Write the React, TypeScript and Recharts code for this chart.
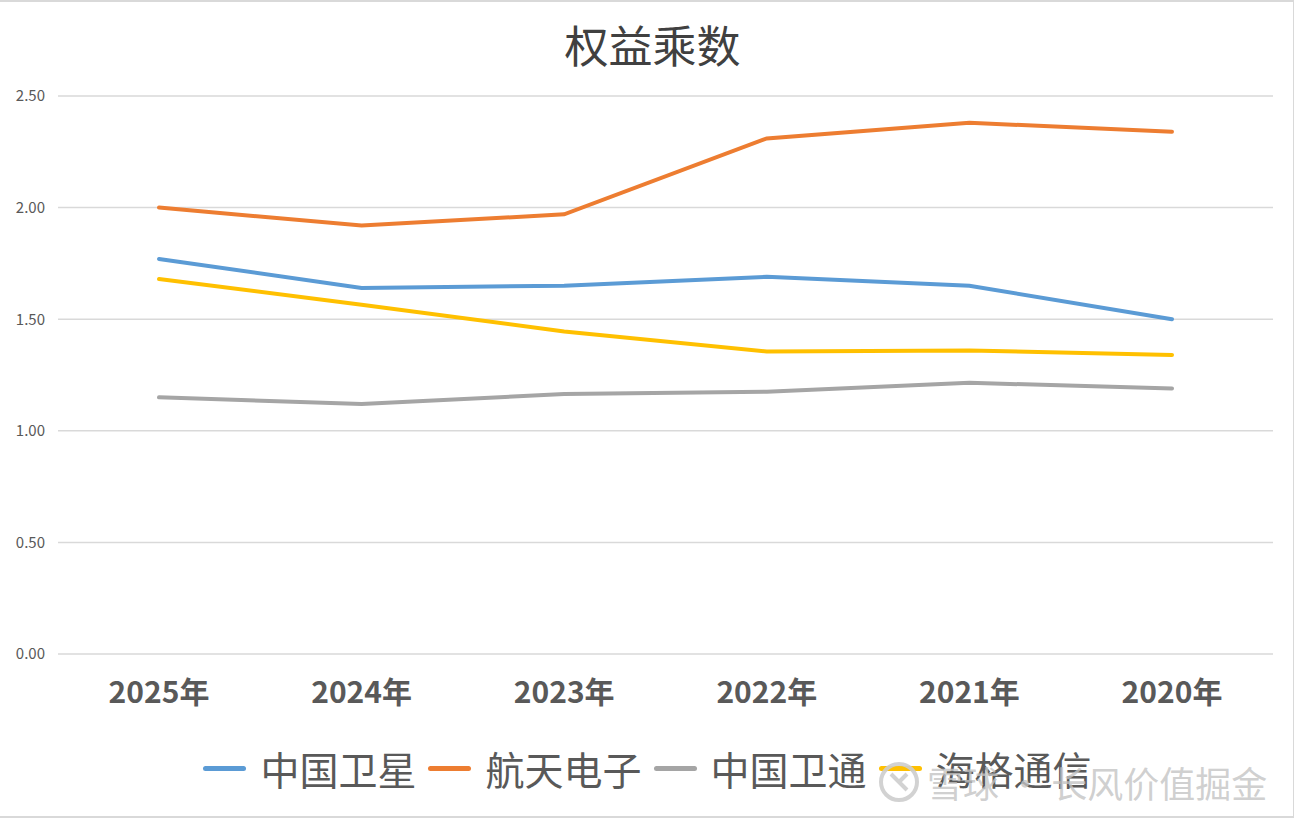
import React from 'react';
import { LineChart, Line, XAxis, YAxis, CartesianGrid } from 'recharts';

const years = ['2025年', '2024年', '2023年', '2022年', '2021年', '2020年'];
const chinaSatellite = [1.77, 1.64, 1.65, 1.69, 1.65, 1.5];
const aerospaceElectronics = [2.0, 1.92, 1.97, 2.31, 2.38, 2.34];
const chinaSatcom = [1.15, 1.12, 1.165, 1.175, 1.215, 1.19];
const haigeComm = [1.68, 1.565, 1.445, 1.355, 1.36, 1.34];
const yTicks = [0, 0.5, 1, 1.5, 2, 2.5];

const series = [
  { key: 'a', name: '中国卫星', color: '#5B9BD5', values: chinaSatellite },
  { key: 'b', name: '航天电子', color: '#ED7D31', values: aerospaceElectronics },
  { key: 'c', name: '中国卫通', color: '#A5A5A5', values: chinaSatcom },
  { key: 'd', name: '海格通信', color: '#FFC000', values: haigeComm },
];

const data = years.map((year, i) => {
  const row: Record<string, string | number> = { year };
  series.forEach((s) => {
    row[s.key] = s.values[i];
  });
  return row;
});

const CJK = '"Noto Sans CJK SC", "Noto Sans", sans-serif';

function ChartLegend() {
  return (
    <div
      style={{
        position: 'absolute',
        left: 0,
        top: 742,
        width: 1295,
        display: 'flex',
        justifyContent: 'center',
        alignItems: 'center',
        fontFamily: CJK,
        fontSize: 39,
        lineHeight: '52px',
        color: '#595959',
      }}
    >
      {series.map((s, i) => (
        <div
          key={s.key}
          style={{ display: 'flex', alignItems: 'center', marginLeft: i === 0 ? 0 : 12 }}
        >
          <span
            style={{
              display: 'inline-block',
              width: 43,
              height: 5,
              borderRadius: 3,
              background: s.color,
              marginRight: 14,
            }}
          />
          <span>{s.name}</span>
        </div>
      ))}
    </div>
  );
}

export default function App() {
  return (
    <div
      style={{
        position: 'absolute',
        left: 0,
        top: 0,
        width: 1295,
        height: 822,
        background: '#fff',
        overflow: 'hidden',
      }}
    >
      <div
        style={{
          position: 'absolute',
          left: 0,
          top: 0,
          width: 1294,
          height: 818,
          borderTop: '2px solid #d9d9d9',
          borderRight: '1px solid #d9d9d9',
          borderBottom: '2px solid #d9d9d9',
          boxSizing: 'border-box',
        }}
      />
      <div
        style={{
          position: 'absolute',
          top: 14,
          left: 5,
          width: '100%',
          textAlign: 'center',
          fontFamily: CJK,
          fontSize: 44,
          lineHeight: '60px',
          color: '#404040',
        }}
      >
        权益乘数
      </div>
      <LineChart
        width={1295}
        height={822}
        data={data}
        margin={{ top: 96, right: 22, bottom: 138, left: 0 }}
        style={{ position: 'absolute', left: 0, top: 0 }}
      >
        <CartesianGrid horizontal vertical={false} stroke="#d9d9d9" strokeWidth={1.5} />
        <XAxis
          dataKey="year"
          height={30}
          axisLine={false}
          tickLine={false}
          tickSize={0}
          tickMargin={28}
          padding={{ left: 101, right: 101 }}
          interval={0}
          tick={{ fill: '#595959', fontSize: 30, fontWeight: 'bold', fontFamily: CJK }}
        />
        <YAxis
          width={58}
          domain={[0, 2.5]}
          ticks={yTicks}
          axisLine={false}
          tickLine={false}
          tickSize={0}
          tickMargin={13}
          tickFormatter={(v: number) => v.toFixed(2)}
          tick={{ fill: '#595959', fontSize: 15, fontFamily: CJK }}
        />
        {series.map((s) => (
          <Line
            key={s.key}
            dataKey={s.key}
            name={s.name}
            stroke={s.color}
            strokeWidth={4}
            dot={false}
            activeDot={false}
            strokeLinecap="round"
            isAnimationActive={false}
          />
        ))}
      </LineChart>
      <ChartLegend />
      <div
        style={{
          position: 'absolute',
          left: 877,
          top: 756,
          display: 'flex',
          alignItems: 'center',
          fontFamily: CJK,
          fontSize: 36,
          color: 'rgba(195,195,195,0.8)',
          pointerEvents: 'none',
        }}
      >
        <svg width={44} height={44} viewBox="0 0 44 44" style={{ marginRight: 6 }}>
          <circle cx={22} cy={22} r={18} fill="none" stroke="rgba(205,205,205,0.9)" strokeWidth={4} />
          <path d="M14 14 L30 30 M30 14 L22 22" stroke="rgba(205,205,205,0.9)" strokeWidth={4} fill="none" />
        </svg>
        <span>雪球 · 长风价值掘金</span>
      </div>
    </div>
  );
}
